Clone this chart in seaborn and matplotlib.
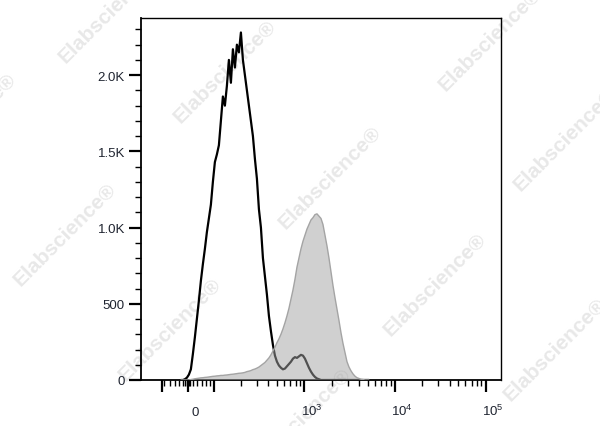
import numpy as np
import pandas as pd
import matplotlib
matplotlib.use("Agg")
import matplotlib.pyplot as plt
import matplotlib.transforms as mtransforms
from matplotlib.scale import SymmetricalLogTransform
import seaborn as sns

# ---- data (histogram counts per channel bin) ----
neg_counts = [0, 0, 5, 15, 35, 70, 170, 280, 400, 520, 650, 760, 860, 970, 1060,
              1150, 1300, 1430, 1480, 1540, 1700, 1860, 1800, 1930, 2100, 1950,
              2170, 2050, 2200, 2150, 2280, 2100, 2000, 1900, 1800, 1700, 1600,
              1450, 1320, 1120, 1000, 800, 680, 560, 420, 320, 230, 160, 120, 95,
              80, 70, 75, 90, 105, 120, 140, 150, 145, 155, 165, 160, 140, 110,
              80, 55, 35, 20, 10, 5, 0,
              0, 0, 0, 0, 0, 0, 0, 0, 0, 0, 0, 0, 0, 0, 0, 0, 0, 0, 0, 0, 0, 0, 0, 0]
pos_counts = [0, 0, 0, 0, 0, 3, 5, 8, 10, 12, 14, 15, 17, 18, 20, 22, 24, 25, 27,
              28, 30, 30, 32, 33, 35, 37, 38, 40, 42, 44, 45, 47, 50, 55, 58, 62,
              68, 72, 78, 85, 95, 105, 115, 130, 145, 165, 190, 215, 245, 270, 300,
              335, 375, 420, 470, 530, 590, 660, 740, 800, 860, 910, 950, 990,
              1020, 1050, 1065, 1085, 1090, 1075, 1060, 1020, 950, 880, 800, 710,
              620, 540, 465, 390, 310, 240, 180, 120, 85, 60, 40, 25, 15, 10, 5,
              3, 0, 0, 0]

x_major_ticks = [-100, 0, 100, 1000, 10000, 100000]
x_tick_labels = ["", "0", "", r"$\mathregular{10^3}$", r"$\mathregular{10^4}$",
                 r"$\mathregular{10^5}$"]
y_major_ticks = [0, 500, 1000, 1500, 2000]
y_tick_labels = ["0", "500", "1.0K", "1.5K", "2.0K"]

# ---- axis scale (biexponential-like display) ----
LINTHRESH = 100
LINSCALE = 0.2583
inv = SymmetricalLogTransform(10, LINTHRESH, LINSCALE).inverted()

# channel bins: evenly spaced in display space (decades)
n_bins = len(neg_counts)
t0 = -8 / 90.5
w = 2 / 90.5
t_centers = (t0 + w * (np.arange(n_bins) + 0.5)) * LINTHRESH
centers = inv.transform(t_centers)

df = pd.DataFrame({"x": centers, "neg": neg_counts, "pos": pos_counts})

sns.set_style("white")
plt.rcParams["font.family"] = ["Liberation Sans", "DejaVu Sans"]

fig = plt.figure(figsize=(6.0, 4.27), dpi=100)
ax = fig.add_axes([141 / 600, 1 - 381 / 427, 360 / 600, 362 / 427])
ax.set_facecolor("none")

sns.lineplot(data=df, x="x", y="neg", color="black", linewidth=1.6,
             estimator=None, sort=False, ax=ax, zorder=2)
ax.fill_between(df["x"], df["pos"], 0, facecolor="#a3a3a3",
                alpha=0.5, edgecolor="none", zorder=3)
sns.lineplot(data=df, x="x", y="pos", color="#a4a4a4", linewidth=1.0,
             estimator=None, sort=False, ax=ax, zorder=4)

ax.set_xscale("symlog", linthresh=LINTHRESH, linscale=LINSCALE)
ax.set_xlim(-170, 1.48e5)
ax.set_ylim(0, 2375)

ax.set_xticks(x_major_ticks)
ax.set_xticklabels(x_tick_labels)
minors = [-90, -70, -50, -35, -20, -10, -5, 5, 10, 20, 35, 55, 70, 85]
for dec in (100, 1000, 10000):
    minors += [m * dec for m in range(2, 10)]
ax.set_xticks(minors, minor=True)

ax.set_yticks(y_major_ticks)
ax.set_yticklabels(y_tick_labels)
ax.set_yticks(np.arange(100, 2400, 100), minor=True)

ax.set_xlabel("")
ax.set_ylabel("")

ax.tick_params(axis="both", which="major", direction="out", length=8.5,
               width=1.6, color="black", labelcolor="#1f2430")
ax.tick_params(axis="both", which="minor", direction="out", length=4,
               width=1.0, color="black")
ax.tick_params(axis="y", which="major", labelsize=9.5, pad=3)
ax.tick_params(axis="x", which="major", labelsize=9.5, pad=17)
ax.tick_params(axis="both", which="both", bottom=True, left=True)

offset = mtransforms.ScaledTranslation(7 / 100, 0, fig.dpi_scale_trans)
for lab in ax.get_xticklabels():
    lab.set_verticalalignment("baseline")
    lab.set_transform(lab.get_transform() + offset)

for s in ax.spines.values():
    s.set_visible(True)
    s.set_color("black")
    s.set_linewidth(1.0)
ax.spines["left"].set_linewidth(1.3)
ax.spines["bottom"].set_linewidth(1.3)

# ---- watermarks ----
wm_pos = [(110, 12), (-35, 125), (225, 72), (330, 178), (435, 285), (555, 350),
          (490, 40), (565, 140), (65, 235), (170, 330), (300, 420)]
for (px, py) in wm_pos:
    fig.text(px / 600, 1 - py / 427, "Elabscience\u00ae", rotation=45,
             ha="center", va="center", fontsize=15, fontweight="bold",
             color="#e8e8e8", zorder=-5)

fig.savefig("out.png", dpi=100)
